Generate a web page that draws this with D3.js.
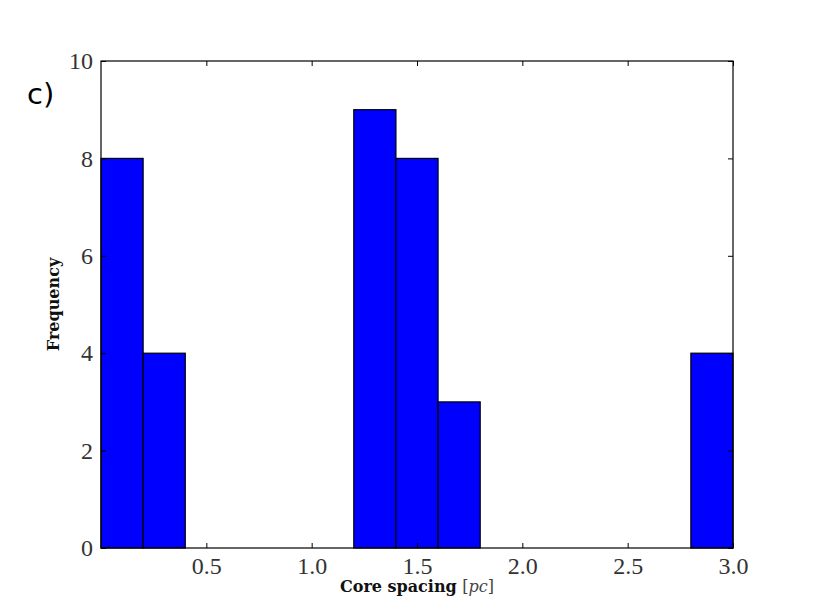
<!DOCTYPE html>
<html>
<head>
<meta charset="utf-8">
<script src="https://cdn.jsdelivr.net/npm/d3@7"></script>
<style>
  html, body { margin: 0; padding: 0; background: #fff; }
  svg { display: block; }
</style>
</head>
<body>
<svg id="chart" width="814" height="610"></svg>
<script>
// Histogram bins (left edge, right edge) and counts
const binStarts = [0.0, 0.2, 0.4, 0.6, 0.8, 1.0, 1.2, 1.4, 1.6, 1.8, 2.0, 2.2, 2.4, 2.6, 2.8];
const binEnds   = [0.2, 0.4, 0.6, 0.8, 1.0, 1.2, 1.4, 1.6, 1.8, 2.0, 2.2, 2.4, 2.6, 2.8, 3.0];
const counts    = [8, 4, 0, 0, 0, 0, 9, 8, 3, 0, 0, 0, 0, 0, 4];
const xTicks = [0.5, 1.0, 1.5, 2.0, 2.5, 3.0];
const yTicks = [0, 2, 4, 6, 8, 10];
const xDomain = [0.0, 3.0];
const yDomain = [0, 10];

(function () {
const svg = d3.select("#chart");
const L = 101, R = 733, T = 61, B = 548;
const x = d3.scaleLinear().domain(xDomain).range([L, R]);
const y = d3.scaleLinear().domain(yDomain).range([B, T]);

const bins = binStarts.map((s, i) => ({ x0: s, x1: binEnds[i], n: counts[i] }));

// bars
svg.append("g").selectAll("rect")
  .data(bins)
  .join("rect")
  .attr("x", d => x(d.x0))
  .attr("y", d => y(d.n))
  .attr("width", d => x(d.x1) - x(d.x0))
  .attr("height", d => y(0) - y(d.n))
  .attr("fill", "#0000ff")
  .attr("stroke", "#000")
  .attr("stroke-width", 1.2);

const serif = "'DejaVu Serif', serif";
const tickFont = "'Liberation Serif', serif";

// axes: bottom/left with labels, ticks inside; top/right ticks only
const tl = -5;
const gBottom = svg.append("g").attr("transform", `translate(0,${B})`)
  .call(d3.axisBottom(x).tickValues(xTicks).tickFormat(d3.format(".1f")).tickSizeInner(tl).tickSizeOuter(0).tickPadding(9));
const gLeft = svg.append("g").attr("transform", `translate(${L},0)`)
  .call(d3.axisLeft(y).tickValues(yTicks).tickFormat(d3.format("d")).tickSizeInner(tl).tickSizeOuter(0).tickPadding(8));
const gTop = svg.append("g").attr("transform", `translate(0,${T})`)
  .call(d3.axisTop(x).tickValues(xTicks).tickFormat("").tickSizeInner(tl).tickSizeOuter(0));
const gRight = svg.append("g").attr("transform", `translate(${R},0)`)
  .call(d3.axisRight(y).tickValues(yTicks).tickFormat("").tickSizeInner(tl).tickSizeOuter(0));

[gBottom, gLeft, gTop, gRight].forEach(g => {
  g.select(".domain").remove();
  g.selectAll(".tick line").attr("stroke", "#000").attr("stroke-width", 1);
  g.selectAll(".tick text").attr("font-family", tickFont).attr("font-size", 24).attr("fill", "#333");
});

// frame
svg.append("rect")
  .attr("x", L).attr("y", T).attr("width", R - L).attr("height", B - T)
  .attr("fill", "none").attr("stroke", "#000").attr("stroke-width", 1.2);

// x label
const xl = svg.append("text")
  .attr("x", (L + R) / 2).attr("y", 592)
  .attr("text-anchor", "middle")
  .attr("font-family", serif).attr("font-size", 16).attr("fill", "#111");
xl.append("tspan").attr("font-weight", "bold").text("Core spacing ");
xl.append("tspan").attr("fill", "#444").text("[");
xl.append("tspan").attr("font-style", "italic").attr("fill", "#444").text("pc");
xl.append("tspan").attr("fill", "#444").text("]");

// y label
svg.append("text")
  .attr("transform", `translate(59,${(T + B) / 2}) rotate(-90)`)
  .attr("text-anchor", "middle")
  .attr("font-family", serif).attr("font-size", 16).attr("font-weight", "bold").attr("fill", "#111")
  .text("Frequency");

// panel label
svg.append("text")
  .attr("x", 27).attr("y", 104)
  .attr("font-family", "'DejaVu Sans', sans-serif").attr("font-size", 29).attr("fill", "#000")
  .text("c)");
})();
</script>
</body>
</html>
